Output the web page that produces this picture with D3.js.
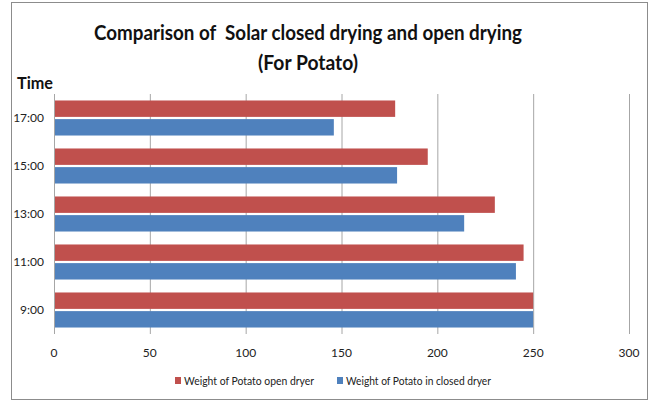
<!DOCTYPE html>
<html><head><meta charset="utf-8">
<script src="https://cdn.jsdelivr.net/npm/d3@7/dist/d3.min.js"></script>
<style>body{margin:0;background:#fff}svg{display:block}</style>
</head><body>
<svg id="c" width="652" height="403"></svg>
<script>
const categories = ["9:00","11:00","13:00","15:00","17:00"];
const openDryer = [250,245,230,195,178];
const closedDryer = [250,241,214,179,146];
const seriesNames = ["Weight of Potato open dryer","Weight of Potato in closed dryer"];
const xTicks = [0,50,100,150,200,250,300];

const svg = d3.select("#c");
const font = "Lato,'DejaVu Sans Condensed',Arial,sans-serif";
const colors = ["#C0504D","#4F81BD"];

svg.append("rect").attr("x",11.5).attr("y",2.5).attr("width",636).attr("height",397)
  .attr("fill","#fff").attr("stroke","#8c8c8c");

const m = {l:54,r:629,t:94,b:334};
const x = d3.scaleLinear().domain([0,300]).range([m.l,m.r]);
const y = d3.scaleBand().domain(categories.slice().reverse()).range([m.t,m.b]).paddingInner(0.27).paddingOuter(0.135);
const inner = d3.scaleBand().domain([0,1]).range([0,y.bandwidth()]).paddingInner(0.12);

svg.append("g").selectAll("line").data(xTicks.slice(1)).join("line")
  .attr("x1",d=>x(d)+0.5).attr("x2",d=>x(d)+0.5).attr("y1",m.t).attr("y2",m.b)
  .attr("stroke","#a6a6a6").attr("stroke-width",1);

const data = categories.map((c,i)=>({c, v:[openDryer[i], closedDryer[i]]}));
const g = svg.append("g");
data.forEach(d=>{
  d.v.forEach((v,k)=>{
    g.append("rect").attr("x",x(0)).attr("y",y(d.c)+inner(k))
      .attr("width",x(v)-x(0)).attr("height",inner.bandwidth()).attr("fill",colors[k]);
  });
});

svg.append("line").attr("x1",m.l+0.5).attr("x2",m.l+0.5).attr("y1",m.t).attr("y2",m.b)
  .attr("stroke","#a6a6a6");

svg.append("g").selectAll("text").data(xTicks).join("text")
  .attr("x",d=>x(d)).attr("y",357).attr("text-anchor","middle")
  .attr("font-family",font).attr("font-size",12).attr("fill","#222").text(d=>d);

svg.append("g").selectAll("text").data(categories).join("text")
  .attr("x",44).attr("y",d=>y(d)+y.bandwidth()/2+4).attr("text-anchor","end")
  .attr("font-family",font).attr("font-size",12).attr("fill","#222").text(d=>d);

svg.append("text").attr("x",308).attr("y",40).attr("text-anchor","middle")
  .attr("font-family",font).attr("font-weight","bold").attr("font-size",21).attr("fill","#111")
  .style("white-space","pre")
  .attr("textLength",428).attr("lengthAdjust","spacingAndGlyphs")
  .text("Comparison of  Solar closed drying and open drying");
svg.append("text").attr("x",308).attr("y",70).attr("text-anchor","middle")
  .attr("font-family",font).attr("font-weight","bold").attr("font-size",21).attr("fill","#111")
  .attr("textLength",100).attr("lengthAdjust","spacingAndGlyphs")
  .text("(For Potato)");
svg.append("text").attr("x",17).attr("y",89)
  .attr("font-family",font).attr("font-weight","bold").attr("font-size",17).attr("fill","#111")
  .attr("textLength",36).attr("lengthAdjust","spacingAndGlyphs")
  .text("Time");

const lx = [175,337];
const lw = [130,145];
seriesNames.forEach((n,k)=>{
  svg.append("rect").attr("x",lx[k]).attr("y",377).attr("width",6).attr("height",7).attr("fill",colors[k]);
  svg.append("text").attr("x",lx[k]+9).attr("y",385)
    .attr("font-family",font).attr("font-size",12).attr("fill","#222")
    .attr("textLength",lw[k]).attr("lengthAdjust","spacingAndGlyphs").text(n);
});
</script>
</body></html>
